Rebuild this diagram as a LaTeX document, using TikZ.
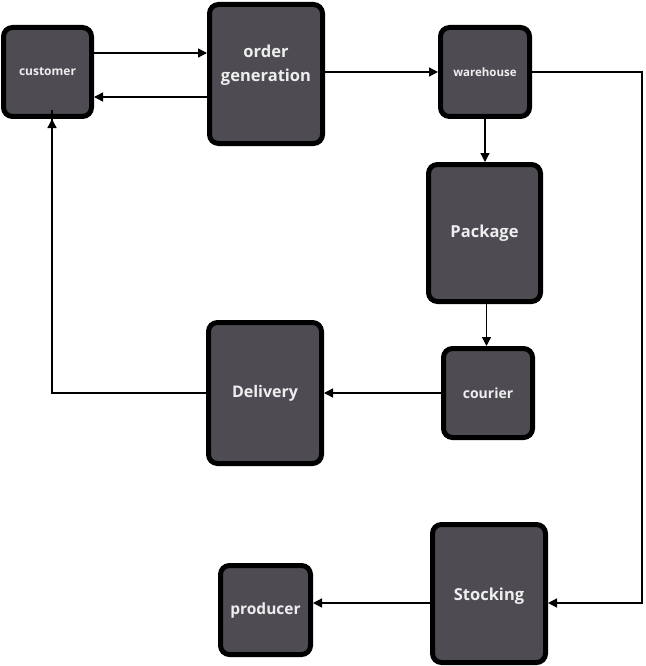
\documentclass[tikz,border=0pt]{standalone}
\usepackage{fontspec}
\setmainfont{Open Sans}
\usetikzlibrary{arrows.meta}
\definecolor{boxfill}{HTML}{4E4B52}
\definecolor{boxtext}{HTML}{EEEEEE}
\tikzset{
  box/.style={draw=black, line width=5pt, fill=boxfill, rounded corners=9pt,
    text=boxtext, font=\bfseries, align=center, inner sep=0pt},
  arr/.style={line width=1.3pt, -{Triangle[length=9pt,width=9pt]}},
}
\begin{document}
\begin{tikzpicture}[x=1pt,y=-1pt]
\useasboundingbox (0,0) rectangle (645,666);
\node[box, minimum width=88pt, minimum height=89pt, font=\bfseries\fontsize{12}{14}\selectfont] (customer) at (47.5,72) {customer};
\node[box, minimum width=113pt, minimum height=139pt,
  label={[text=boxtext, align=center, font=\bfseries\fontsize{16.5}{24}\selectfont, yshift=9pt]center:order\\generation}] (order) at (266,74) {};
\node[box, minimum width=89pt, minimum height=89pt, font=\bfseries\fontsize{11.5}{14}\selectfont] (warehouse) at (485,72) {warehouse};
\node[box, minimum width=112pt, minimum height=137pt, font=\bfseries\fontsize{16.5}{20}\selectfont] (package) at (484.5,233) {Package};
\node[box, minimum width=89pt, minimum height=89pt, font=\bfseries\fontsize{14}{17}\selectfont] (courier) at (488,393) {courier};
\node[box, minimum width=113pt, minimum height=141pt, font=\bfseries\fontsize{16}{19}\selectfont] (delivery) at (265,393) {Delivery};
\node[box, minimum width=113pt, minimum height=138pt,
  label={[text=boxtext, font=\bfseries\fontsize{16.5}{20}\selectfont, yshift=-3pt]center:Stocking}] (stocking) at (489,593.5) {};
\node[box, minimum width=90pt, minimum height=89pt, font=\bfseries\fontsize{15.5}{18}\selectfont] (producer) at (265.5,610) {producer};
\coordinate (ya) at (0,53);
\coordinate (yb) at (0,97);
\coordinate (yc) at (0,72);
\coordinate (ys) at (0,603);
\coordinate (xr) at (642,0);
\coordinate (xl) at (52,0);
\draw[arr] (customer.east |- ya) -- (order.west |- ya);
\draw[arr] (order.west |- yb) -- (customer.east |- yb);
\draw[arr] (order.east |- yc) -- (warehouse.west |- yc);
\draw[arr] (warehouse.south) -- (warehouse.south |- package.north);
\draw[arr] ([xshift=2pt]package.south) -- ([xshift=2pt]package.south |- courier.north);
\draw[arr] (courier.west) -- (delivery.east);
\draw[arr] (delivery.west) -| (xl |- customer.south) -- (customer.south -| xl);
\draw[arr] (warehouse.east |- yc) -| (xr |- ys) -- (stocking.east |- ys);
\draw[arr] (stocking.west |- ys) -- (producer.east |- ys);
\end{tikzpicture}
\end{document}
